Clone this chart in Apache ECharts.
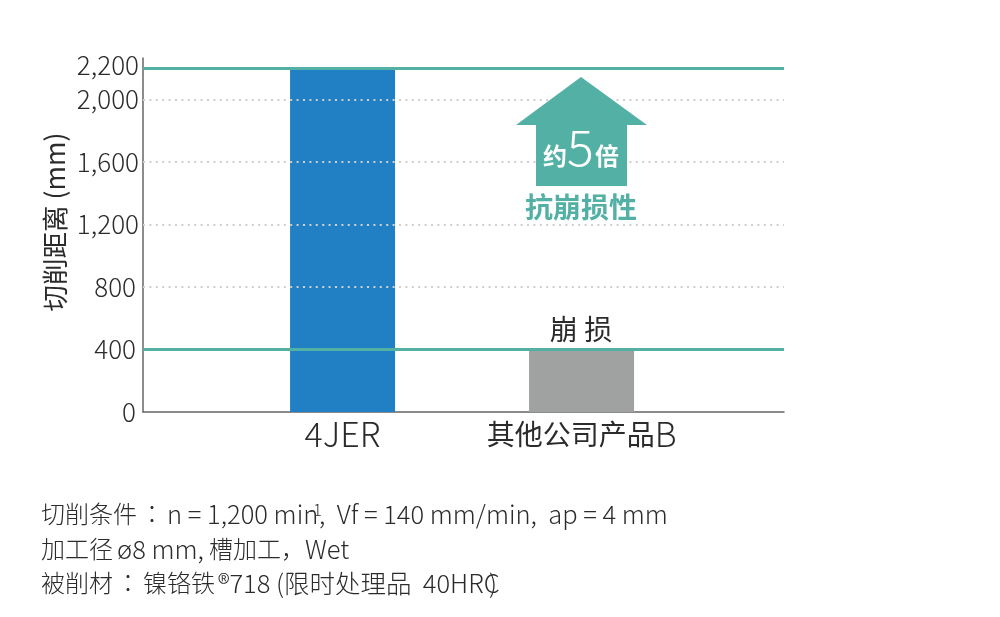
<!DOCTYPE html>
<html>
<head>
<meta charset="utf-8">
<style>
    html, body { margin: 0; padding: 0; background: #fff; }
    #chart { width: 1000px; height: 617px; }
</style>
<script src="https://cdn.jsdelivr.net/npm/echarts@6/dist/echarts.min.js"></script>
</head>
<body>
<div id="chart"></div>
<script>
const categories = ['4JER', '其他公司产品B'];
const categoryLabels = ['{latin|4JER}', '{cjk|其他公司产品}{letter|B}'];
const cuttingLength = [2200, 400];
const barColors = ['#217fc4', '#a0a1a1'];
const yTicks = [0, 400, 800, 1200, 1600, 2000, 2200];
const dottedLevels = [800, 1200, 1600, 2000];
const tealLevels = [400, 2200];
const damageLabel = '崩 损';
const footerLines = [
    '{c|切削条件}{k|：}{l|n = 1,200 min}',
    '{c|加工径}{s|ø8 mm,}{c|槽加工，}{l|Wet}',
    '{c|被削材}{k|：}{c|镍铬铁}{e|®718 (}{d|限时处理品}{l|  40HRC}'
];
const footerRest = ',  Vf = 140 mm/min,  ap = 4 mm';

const font = '"Noto Sans CJK SC", "Noto Sans", sans-serif';
const teal = '#53b0a4';
const textColor = '#2b2b2b';

// bars sit on a value axis so the uneven side margins of the original can be kept
const xMin = 0.165;
const xMax = 2.847;

function levelLines(levels) {
    return levels.map(function (v) {
        return [{ coord: [xMin, v] }, { coord: [xMax, v] }];
    });
}

function footerText(text, x, y, size) {
    const latin = '300 25.5px ' + font;
    return {
        type: 'text', x: x, y: y, z: 10,
        style: {
            text: text,
            font: '300 ' + (size || 25.5) + 'px ' + font,
            fill: textColor,
            textVerticalAlign: 'middle',
            rich: {
                c: { font: '300 24px ' + font, fill: textColor },
                d: { font: latin, fill: textColor },
                k: { font: '300 24px "Noto Sans CJK TC"', fill: textColor, padding: [0, 3, 0, 3] },
                l: { font: latin, fill: textColor },
                s: { font: latin, fill: textColor, padding: [0, 5, 0, 4] },
                e: { font: latin, fill: textColor, padding: [0, 0, 0, 3] }
            }
        }
    };
}

const arrowPoints = [[581, 77], [647, 125], [627, 125], [627, 186], [536, 186], [536, 125], [516, 125]];

const option = {
    animation: false,
    backgroundColor: '#fff',
    grid: { left: 143, right: 216, top: 58, bottom: 205 },
    xAxis: {
        type: 'value',
        min: xMin,
        max: xMax,
        splitLine: { show: false },
        axisTick: { show: false },
        axisLine: { show: true, onZero: false, lineStyle: { color: '#666', width: 1.5 } },
        axisLabel: {
            customValues: [1, 2],
            formatter: function (v) { return categoryLabels[v - 1]; },
            margin: 5,
            rich: {
                latin: { color: textColor, fontFamily: font, fontSize: 34, fontWeight: 300 },
                cjk: { color: textColor, fontFamily: font, fontSize: 28, fontWeight: 400 },
                letter: { color: textColor, fontFamily: font, fontSize: 34, fontWeight: 300 }
            }
        }
    },
    yAxis: {
        type: 'value',
        min: 0,
        max: 2265,
        splitLine: { show: false },
        axisTick: { show: false },
        axisLine: { show: true, lineStyle: { color: '#666', width: 1.5 } },
        axisLabel: {
            customValues: yTicks,
            formatter: function (v) {
                const text = v.toLocaleString('en-US');
                if (v === 2200) return '{top|' + text + '}';
                return v < 1000 ? '{short|' + text + '}' : text;
            },
            margin: 4,
            color: textColor,
            fontFamily: font,
            fontSize: 26,
            fontWeight: 300,
            rich: {
                short: { color: textColor, fontFamily: font, fontSize: 26, fontWeight: 300, padding: [0, 3, 0, 0] },
                top: { color: textColor, fontFamily: font, fontSize: 26, fontWeight: 300, padding: [0, 0, 6, 0] }
            }
        }
    },
    series: [
        {
            type: 'line',
            z: 1,
            data: [],
            silent: true,
            markLine: {
                silent: true,
                symbol: 'none',
                label: { show: false },
                lineStyle: { color: '#cfcfcf', width: 2, type: [2, 4.4], opacity: 1 },
                data: levelLines(dottedLevels)
            }
        },
        {
            type: 'bar',
            z: 2,
            barWidth: 105,
            data: cuttingLength.map(function (v, i) {
                return { value: [i + 1, v], name: categories[i], itemStyle: { color: barColors[i] } };
            })
        },
        {
            type: 'line',
            z: 6,
            data: [],
            silent: true,
            markLine: {
                silent: true,
                z: 6,
                symbol: 'none',
                label: { show: false },
                lineStyle: { color: teal, width: 3, type: 'solid', opacity: 1 },
                data: levelLines(tealLevels)
            }
        }
    ],
    graphic: [
        // white halo that interrupts the dotted lines round the arrow
        { type: 'polygon', z: 3, shape: { points: arrowPoints }, style: { fill: '#fff', stroke: '#fff', lineWidth: 22, lineJoin: 'round' } },
        { type: 'polygon', z: 7, shape: { points: arrowPoints }, style: { fill: teal } },
        { type: 'text', x: 543, y: 156, z: 8, style: { text: '约', font: 'bold 24px ' + font, fill: '#fff', textVerticalAlign: 'middle' } },
        { type: 'text', x: 567, y: 147, z: 8, style: { text: '5', font: '300 50px ' + font, fill: '#fff', textVerticalAlign: 'middle' } },
        { type: 'text', x: 595, y: 156, z: 8, style: { text: '倍', font: 'bold 24px ' + font, fill: '#fff', textVerticalAlign: 'middle' } },
        { type: 'text', x: 581, y: 207, z: 8, style: { text: '抗崩损性', font: 'bold 28px ' + font, fill: teal, textAlign: 'center', textVerticalAlign: 'middle' } },
        { type: 'text', x: 581, y: 329, z: 8, style: { text: damageLabel, font: '400 28px ' + font, fill: textColor, textAlign: 'center', textVerticalAlign: 'middle' } },
        { type: 'text', x: 55, y: 222, z: 8, rotation: Math.PI / 2, style: { text: '切削距离 (mm)', font: '400 26.5px ' + font, fill: textColor, textAlign: 'center', textVerticalAlign: 'middle' } },
        footerText(footerLines[0], 41, 514),
        footerText(footerRest, 319, 514),
        footerText('-1', 308, 510, 16),
        footerText(footerLines[1], 41, 549),
        footerText(footerLines[2], 41, 583),
        footerText(')', 489, 583)
    ]
};

const chart = echarts.init(document.getElementById('chart'));
chart.setOption(option);
</script>
</body>
</html>
